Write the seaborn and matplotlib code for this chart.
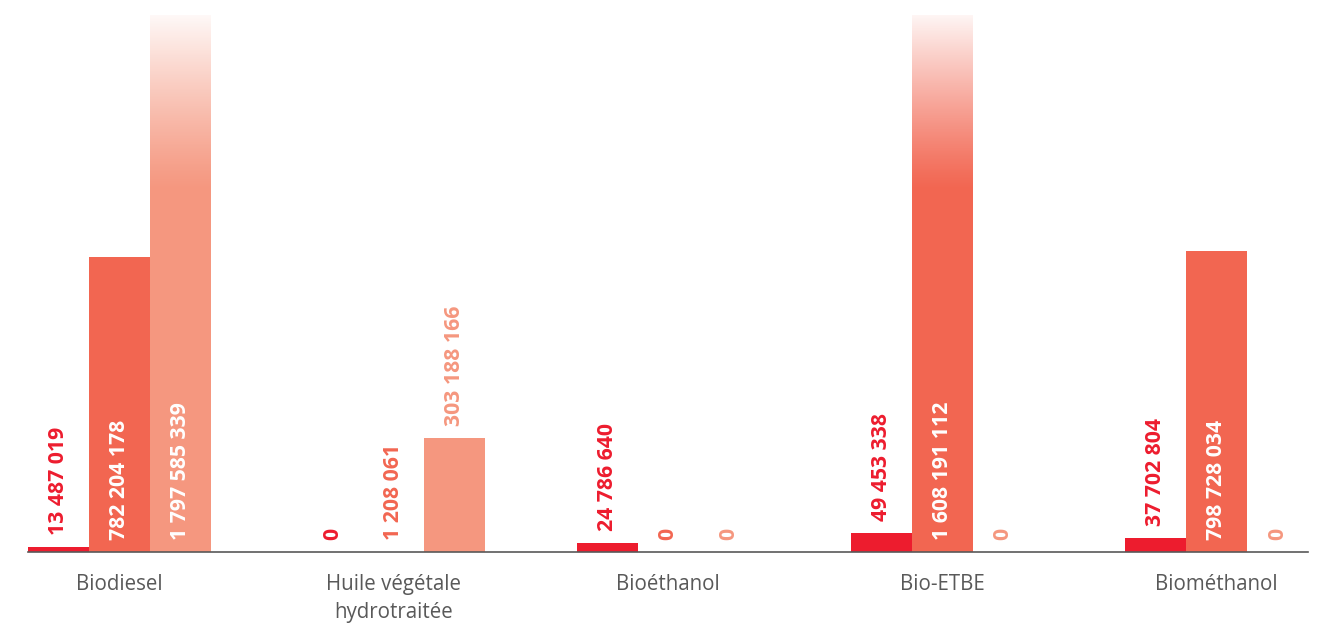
import matplotlib
matplotlib.use("Agg")
import matplotlib.pyplot as plt
import numpy as np
import pandas as pd
import seaborn as sns

categories = ["Biodiesel", "Huile végétale\nhydrotraitée", "Bioéthanol", "Bio-ETBE", "Biométhanol"]
series_names = ["Série 1", "Série 2", "Série 3"]
serie_1 = [13487019, 0, 24786640, 49453338, 37702804]
serie_2 = [782204178, 1208061, 0, 1608191112, 798728034]
serie_3 = [1797585339, 303188166, 0, 0, 0]

colors = ["#ed1c2e", "#f26651", "#f5977f"]
grey = "#595959"


def fmt(v):
    return f"{v:,}".replace(",", " ")


def main():
    df = pd.DataFrame({
        "Catégorie": categories * 3,
        "Série": [s for s in series_names for _ in categories],
        "Valeur": serie_1 + serie_2 + serie_3,
    })

    sns.set_style("white")
    plt.rcParams["font.family"] = ["Open Sans", "DejaVu Sans"]

    fig = plt.figure(figsize=(13.26, 6.23), dpi=100)
    ax = fig.add_axes([28 / 1326, 1 - 552 / 623, 1280 / 1326, 537 / 623])

    sns.barplot(data=df, x="Catégorie", y="Valeur", hue="Série", order=categories,
                hue_order=series_names, palette=colors, width=2 / 3, gap=0,
                saturation=1, legend=False, linewidth=0, ax=ax)

    ymax = 1.4236e9
    fade_from = 0.675 * ymax
    ax.set_ylim(0, ymax)
    ax.set_xlim(-1 / 3, len(categories) - 1 + 1 / 3)

    # bars taller than the axis fade out towards white
    fade = np.ones((256, 1, 4))
    fade[:, 0, 3] = np.linspace(0, 0.95, 256) ** 1.15
    for cont, col in zip(ax.containers, colors):
        for bar in cont:
            v = bar.get_height()
            x0 = bar.get_x()
            xc = x0 + bar.get_width() / 2
            if v > ymax:
                ax.imshow(fade, extent=[x0, x0 + bar.get_width(), fade_from, ymax],
                          origin="lower", aspect="auto", zorder=3, interpolation="bilinear")
            inside = v > 0.3 * ymax
            ax.annotate(fmt(int(v)), xy=(xc, 0 if inside else v), xytext=(0, 8.6),
                        textcoords="offset points", rotation=90, ha="center", va="bottom",
                        fontsize=15.3, fontweight="bold",
                        color="white" if inside else col, zorder=4)

    ax.set_xlim(-1 / 3, len(categories) - 1 + 1 / 3)
    ax.set_ylim(0, ymax)
    ax.set_xlabel("")
    ax.set_ylabel("")
    ax.set_yticks([])
    ax.tick_params(axis="x", length=0, pad=16, labelsize=14.8, labelcolor=grey)
    for lab in ax.get_xticklabels():
        lab.set_linespacing(1.45)
    for side in ["top", "left", "right"]:
        ax.spines[side].set_visible(False)
    ax.spines["bottom"].set_color(grey)
    ax.spines["bottom"].set_linewidth(1.2)
    ax.grid(False)

    fig.savefig("out.png", dpi=100)


if __name__ == "__main__":
    main()
